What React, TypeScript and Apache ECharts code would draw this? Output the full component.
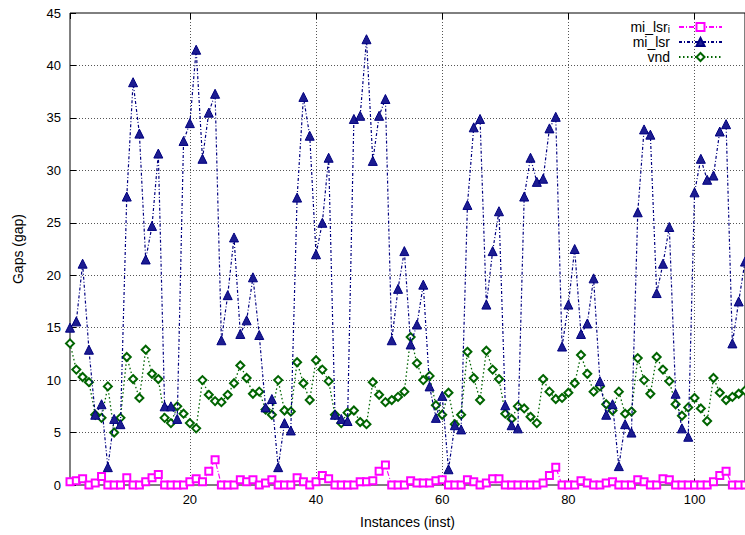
import React, { useEffect, useRef } from 'react';
import * as echarts from 'echarts';

// Values, instance 1..108
const miLsrI: number[] = [
  0.3, 0.4, 0.6, 0, 0.2, 0.8, 0, 0, 0, 0.7,
  0, 0, 0.3, 0.7, 1.0, 0, 0, 0, 0, 0.3,
  0.6, 0.3, 1.3, 2.4, 0, 0, 0, 0.5, 0.3, 0.5,
  0, 0.2, 0.5, 0, 0, 0, 0.7, 0.3, 0, 0.3,
  0.9, 0.6, 0, 0, 0, 0, 0.3, 0.3, 0.4, 1.3,
  1.9, 0, 0, 0, 0.4, 0.2, 0.2, 0.2, 0.4, 0.5,
  0, 0, 0, 0.5, 0.3, 0, 0.2, 0.6, 0.6, 0,
  0, 0, 0, 0, 0, 0.2, 0.9, 1.7, 0, 0,
  0, 0.4, 0.2, 0, 0, 0.2, 0.3, 0, 0, 0,
  0.5, 0.3, 0, 0, 0.6, 0.5, 0, 0, 0, 0,
  0, 0, 0.3, 0.9, 1.3, 0, 0, 0,
];

const miLsr: number[] = [
  15.0, 15.6, 21.1, 12.9, 6.7, 7.7, 1.7, 6.3, 5.8, 27.5,
  38.4, 33.5, 21.5, 24.7, 31.6, 7.5, 7.5, 6.3, 32.8, 34.5,
  41.5, 31.1, 35.5, 37.3, 13.8, 18.1, 23.6, 14.4, 15.7, 19.8,
  14.3, 7.4, 8.2, 1.7, 5.9, 5.2, 27.4, 37.0, 33.3, 22.0,
  25.0, 31.2, 6.7, 6.3, 6.1, 34.9, 35.2, 42.5, 30.9, 35.2,
  36.8, 13.8, 18.7, 22.3, 13.4, 15.3, 19.1, 9.4, 6.4, 8.5,
  1.5, 5.7, 5.3, 26.7, 34.1, 34.9, 17.2, 22.3, 26.1, 7.6,
  5.7, 5.4, 27.5, 31.2, 28.9, 29.2, 34.0, 35.1, 13.2, 17.2,
  22.5, 14.4, 15.4, 19.7, 9.9, 6.7, 7.7, 1.8, 5.8, 5.0,
  26.0, 33.9, 33.4, 18.3, 21.1, 24.6, 8.7, 5.4, 4.6, 27.9,
  31.1, 29.1, 29.5, 33.7, 34.4, 13.5, 17.5, 21.3,
];

const vnd: number[] = [
  13.5, 11.0, 10.3, 9.8, 6.7, 6.4, 9.4, 5.0, 6.4, 12.2,
  10.1, 8.3, 12.9, 10.6, 10.1, 6.4, 5.9, 7.5, 6.8, 5.9,
  5.4, 10.0, 8.6, 8.0, 7.9, 8.6, 9.7, 11.4, 10.2, 8.7,
  8.9, 7.2, 6.7, 10.0, 7.1, 7.0, 11.7, 9.7, 8.1, 11.9,
  11.0, 9.9, 6.7, 5.9, 6.9, 7.1, 6.0, 5.8, 9.8, 8.6,
  7.9, 8.1, 8.4, 8.9, 14.1, 11.6, 10.0, 10.4, 7.6, 6.7,
  8.8, 5.8, 6.7, 12.7, 10.2, 8.1, 12.8, 11.0, 10.1, 6.8,
  6.3, 7.5, 7.3, 6.5, 5.9, 10.1, 8.9, 8.2, 8.3, 8.8,
  9.7, 12.4, 10.6, 8.9, 9.4, 7.7, 7.1, 8.9, 6.8, 7.0,
  12.1, 10.0, 8.7, 12.2, 11.0, 9.9, 7.7, 6.6, 7.4, 8.3,
  7.3, 6.1, 10.2, 8.8, 8.1, 8.4, 8.7, 9.0,
];

const seriesNames = ['mi_lsr_i', 'mi_lsr', 'vnd'];
const xMin = 1;
const xMax = 108;
const yMin = 0;
const yMax = 45;
const yStep = 5;

const FONT = '"Liberation Sans", Arial, Helvetica, sans-serif';

const toPoints = (arr: number[]) => arr.map((v, i) => [i + 1, v]);

export default function App() {
  const ref = useRef<HTMLDivElement>(null);

  useEffect(() => {
    document.body.style.margin = '0';
    if (!ref.current) return;
    const chart = echarts.init(ref.current, null, { renderer: 'svg' });

    const gridLine = { color: '#555', type: [1, 2] as number[], width: 1 };

    const option: any = {
      animation: false,
      backgroundColor: '#fff',
      textStyle: { fontFamily: FONT, color: '#000' },
      grid: {
        left: 70,
        right: -2,
        top: 13,
        bottom: 50,
        show: true,
        borderColor: '#000',
        borderWidth: 1,
        backgroundColor: 'transparent',
      },
      legend: {
        orient: 'vertical',
        right: 17,
        top: 15,
        align: 'right',
        itemWidth: 43,
        itemHeight: 10,
        itemGap: 1,
        selectedMode: false,
        data: seriesNames,
        formatter: (n: string) =>
          n === 'mi_lsr_i' ? '{m|mi_lsr}{s|i}{p|}' : '{m|' + n + '}{p|}',
        textStyle: {
          fontFamily: FONT,
          color: '#000',
          fontSize: 14,
          rich: {
            m: { fontFamily: FONT, fontSize: 14, lineHeight: 14, color: '#000' },
            s: {
              fontFamily: FONT,
              fontSize: 10,
              lineHeight: 4,
              verticalAlign: 'bottom',
              color: '#000',
            },
            p: { width: 4, lineHeight: 14 },
          },
        },
      },
      xAxis: [
        {
          type: 'value',
          min: xMin,
          max: xMax,
          splitNumber: 5,
          name: 'Instances (inst)',
          nameLocation: 'middle',
          nameGap: 30,
          nameTextStyle: { fontFamily: FONT, fontSize: 14, color: '#000' },
          axisLine: { show: false },
          axisTick: { show: true, inside: true, length: 6, lineStyle: { color: '#000' } },
          axisLabel: {
            fontFamily: FONT,
            fontSize: 13,
            color: '#000',
            margin: 8,
            showMinLabel: false,
            showMaxLabel: false,
          },
          splitLine: { show: true, showMinLine: false, showMaxLine: false, lineStyle: gridLine },
        },
        {
          type: 'value',
          position: 'top',
          min: xMin,
          max: xMax,
          splitNumber: 5,
          axisLine: { show: false },
          axisTick: { show: true, inside: true, length: 6, lineStyle: { color: '#000' } },
          axisLabel: { show: false },
          splitLine: { show: false },
        },
      ],
      yAxis: {
        type: 'value',
        min: yMin,
        max: yMax,
        interval: yStep,
        name: 'Gaps (gap)',
        nameLocation: 'middle',
        nameGap: 45,
        nameRotate: 90,
        nameTextStyle: { fontFamily: FONT, fontSize: 14, color: '#000' },
        axisLine: { show: false },
        axisTick: { show: true, inside: true, length: 6, lineStyle: { color: '#000' } },
        axisLabel: { fontFamily: FONT, fontSize: 13, color: '#000', margin: 9 },
        splitLine: { show: true, showMinLine: false, showMaxLine: false, lineStyle: gridLine },
      },
      series: [
        {
          name: 'mi_lsr_i',
          type: 'line',
          data: toPoints(miLsrI),
          symbol: 'emptyRect',
          symbolSize: 7,
          z: 4,
          lineStyle: { color: '#ff00ff', width: 1.2, type: [5, 2, 1, 2] },
          itemStyle: { color: '#ff00ff', borderColor: '#ff00ff', borderWidth: 1.5 },
        },
        {
          name: 'mi_lsr',
          type: 'line',
          data: toPoints(miLsr),
          symbol: 'triangle',
          symbolSize: 9,
          z: 3,
          lineStyle: { color: '#000080', width: 1.2, type: [3, 2, 1, 2] },
          itemStyle: { color: '#1c1c90', borderColor: '#000080', borderWidth: 1 },
        },
        {
          name: 'vnd',
          type: 'line',
          data: toPoints(vnd),
          symbol: 'emptyDiamond',
          symbolSize: 8,
          z: 2,
          lineStyle: { color: '#006400', width: 1.3, type: [1.5, 2.5] },
          itemStyle: { color: '#006400', borderColor: '#006400', borderWidth: 1.6 },
        },
      ],
    };

    chart.setOption(option);
    return () => chart.dispose();
  }, []);

  return (
    <div
      ref={ref}
      style={{ position: 'fixed', left: 0, top: 0, width: 745, height: 535, background: '#fff' }}
    />
  );
}
